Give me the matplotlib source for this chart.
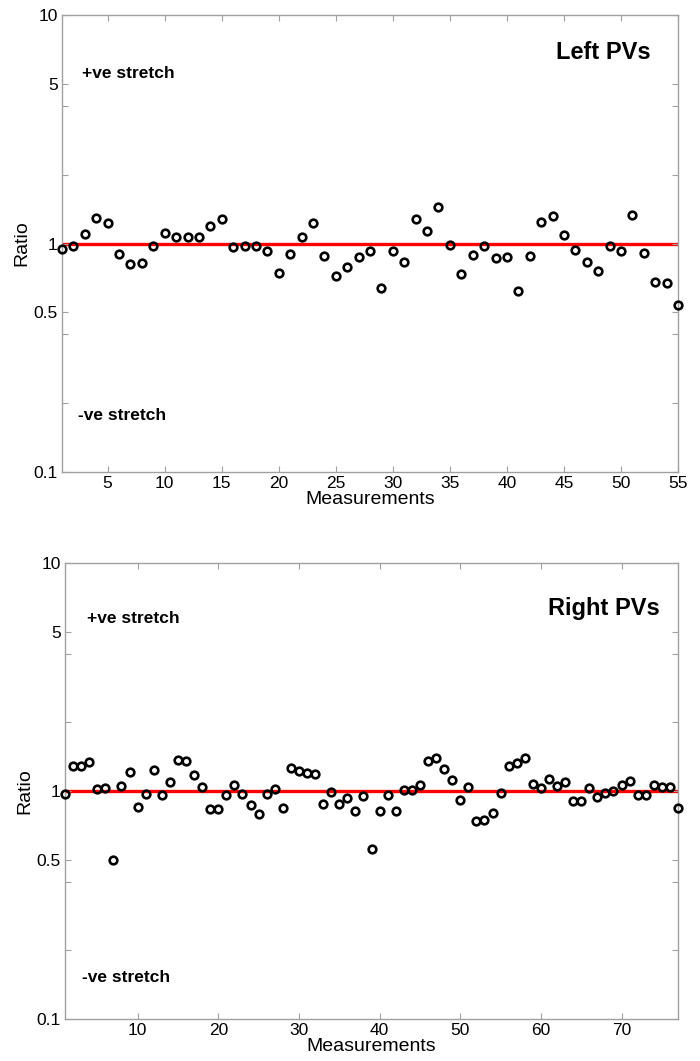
import numpy as np
import matplotlib
matplotlib.use("Agg")
from matplotlib import pyplot as plt
from matplotlib.ticker import FixedLocator, NullLocator, FixedFormatter

plt.rcParams['font.family'] = ['Liberation Sans', 'DejaVu Sans']

# Left PVs: ratio per measurement (1..55)
left_ratio = [0.946, 0.98, 1.10, 1.30, 1.23, 0.897, 0.811, 0.819, 0.975, 1.108,
              1.07, 1.065, 1.07, 1.19, 1.28, 0.968, 0.975, 0.975, 0.93, 0.743,
              0.897, 1.065, 1.23, 0.884, 0.723, 0.79, 0.873, 0.924, 0.639, 0.924,
              0.83, 1.276, 1.134, 1.44, 0.982, 0.733, 0.888, 0.975, 0.867, 0.873,
              0.62, 0.879, 1.246, 1.315, 1.086, 0.94, 0.83, 0.76, 0.975, 0.924,
              1.328, 0.909, 0.678, 0.672, 0.54]

# Right PVs: ratio per measurement (1..77)
right_ratio = [0.97, 1.29, 1.29, 1.34, 1.02, 1.027, 0.50, 1.047, 1.215, 0.848,
               0.973, 1.23, 0.957, 1.10, 1.367, 1.36, 1.18, 1.04, 0.83, 0.834,
               0.963, 1.058, 0.97, 0.865, 0.79, 0.97, 1.023, 0.845, 1.26, 1.22,
               1.20, 1.19, 0.88, 0.993, 0.874, 0.928, 0.814, 0.953, 0.557, 0.82,
               0.957, 0.82, 1.013, 1.013, 1.058, 1.35, 1.39, 1.25, 1.117, 0.916,
               1.037, 0.736, 0.746, 0.80, 0.983, 1.29, 1.32, 1.39, 1.076, 1.027,
               1.13, 1.05, 1.095, 0.90, 0.90, 1.03, 0.944, 0.98, 1.003, 1.062,
               1.106, 0.963, 0.963, 1.062, 1.044, 1.04, 0.84]

left_xticks = [5, 10, 15, 20, 25, 30, 35, 40, 45, 50, 55]
right_xticks = [10, 20, 30, 40, 50, 60, 70]
ytick_vals = [0.1, 0.2, 0.4, 0.5, 1, 2, 4, 5, 10]
ytick_labels = ['0.1', '', '', '0.5', '1', '', '', '5', '10']

GREY = '#a0a0a0'

fig = plt.figure(figsize=(7.0, 10.61), dpi=100)
ax1 = fig.add_axes([0.0886, 0.5551, 0.880, 0.4307])
ax2 = fig.add_axes([0.0929, 0.0396, 0.8757, 0.4298])


def style_panel(ax, ratios, xticks, title, pos_txt, neg_txt, title_xy):
    x = np.arange(1, len(ratios) + 1)
    ax.set_yscale('log')
    ax.axhline(1.0, color='#ff0000', lw=2.4, zorder=1)
    ax.plot(x, ratios, 'o', mfc='none', mec='black', ms=5.5, mew=1.9,
            zorder=3, clip_on=False)
    ax.set_xlim(1, len(ratios))
    ax.set_ylim(0.1, 10)
    ax.xaxis.set_major_locator(FixedLocator(xticks))
    ax.xaxis.set_minor_locator(NullLocator())
    ax.yaxis.set_major_locator(FixedLocator(ytick_vals))
    ax.yaxis.set_major_formatter(FixedFormatter(ytick_labels))
    ax.yaxis.set_minor_locator(NullLocator())
    ax.tick_params(direction='in', length=4, width=0.8, color=GREY,
                   top=True, right=True, labelsize=12.5, pad=3)
    for sp in ax.spines.values():
        sp.set_color(GREY)
        sp.set_linewidth(1.0)
    ax.set_xlabel('Measurements', fontsize=14, labelpad=0)
    ax.set_ylabel('Ratio', fontsize=14, labelpad=2)
    ax.text(pos_txt[0], pos_txt[1], '+ve stretch', transform=ax.transAxes,
            fontsize=12.5, fontweight='bold', va='center', ha='left')
    ax.text(neg_txt[0], neg_txt[1], '-ve stretch', transform=ax.transAxes,
            fontsize=12.5, fontweight='bold', va='center', ha='left')
    ax.text(title_xy[0], title_xy[1], title, transform=ax.transAxes,
            fontsize=17, fontweight='bold', va='center', ha='right')


style_panel(ax1, left_ratio, left_xticks, 'Left PVs',
            (0.032, 0.873), (0.026, 0.123), (0.956, 0.919))
style_panel(ax2, right_ratio, right_xticks, 'Right PVs',
            (0.036, 0.879), (0.028, 0.09), (0.97, 0.90))

fig.savefig('out.png', dpi=100)
